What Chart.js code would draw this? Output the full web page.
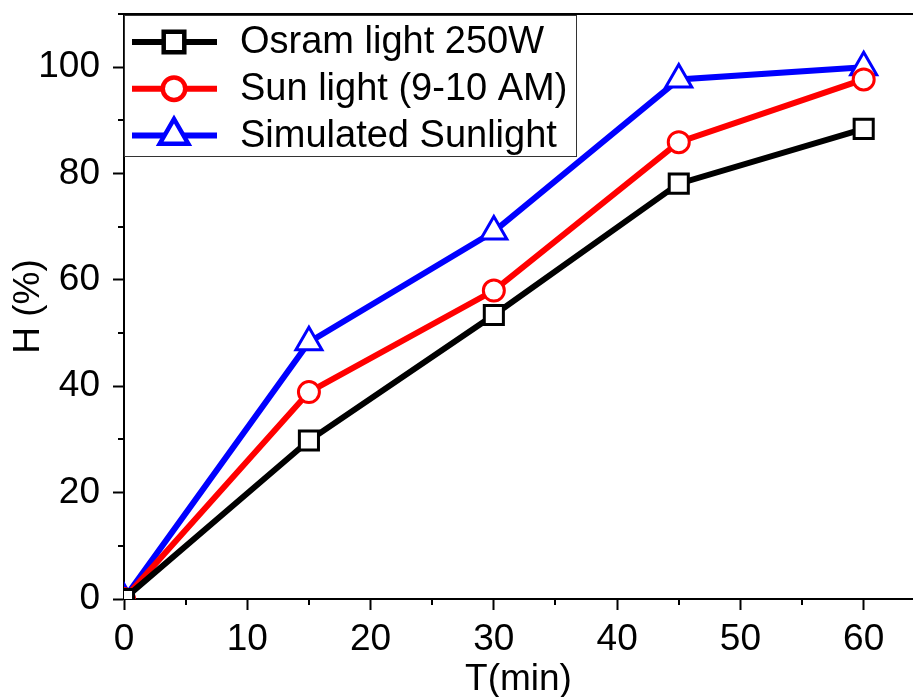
<!DOCTYPE html>
<html>
<head>
<meta charset="utf-8">
<script src="https://cdn.jsdelivr.net/npm/chart.js@4"></script>
<style>
    html, body { margin: 0; padding: 0; background: #fff; overflow: hidden; }
    #wrap { width: 913px; height: 697px; }
    canvas { display: block; }
</style>
</head>
<body>
<div id="wrap"><canvas id="degradation"></canvas></div>
<script>
const times = [0, 15, 30, 45, 60];
const osram = [0, 29.8, 53.4, 78.1, 88.4];
const sunLight = [0, 38.9, 58.0, 85.9, 97.7];
const simulated = [0, 48.3, 69.1, 97.7, 100];
const seriesNames = ["Osram light 250W", "Sun light (9-10 AM)", "Simulated Sunlight"];

const font = "'Liberation Sans', Arial, sans-serif";

function points(values) {
    return times.map((t, i) => ({ x: t, y: values[i] }));
}

// minor ticks, top frame line and the boxed legend
const decorations = {
    id: "decorations",
    afterDraw(chart) {
        const ctx = chart.ctx;
        const area = chart.chartArea;
        const xs = chart.scales.x, ys = chart.scales.y;
        ctx.save();
        ctx.strokeStyle = "#000";
        ctx.lineWidth = 2;
        ctx.beginPath();
        for (let v = 5; v < 64; v += 10) {
            const px = Math.round(xs.getPixelForValue(v));
            ctx.moveTo(px, area.bottom);
            ctx.lineTo(px, area.bottom + 6);
        }
        for (let v = 10; v <= 110; v += 20) {
            const py = Math.round(ys.getPixelForValue(v));
            ctx.moveTo(area.left, py);
            ctx.lineTo(area.left - 6, py);
        }
        ctx.moveTo(area.left - 1, area.top);
        ctx.lineTo(area.right, area.top);
        ctx.stroke();

        // legend
        const bx = area.left, by = area.top + 1, bw = 452, bh = 141;
        ctx.fillStyle = "#fff";
        ctx.fillRect(bx, by, bw, bh);
        ctx.lineWidth = 1;
        ctx.strokeStyle = "#333";
        ctx.strokeRect(bx + 0.5, by + 0.5, bw, bh);
        chart.data.datasets.forEach((ds, i) => {
            const cy = by + 27 + i * 46.7;
            ctx.strokeStyle = ds.borderColor;
            ctx.lineWidth = ds.borderWidth;
            ctx.beginPath();
            ctx.moveTo(132, cy);
            ctx.lineTo(217, cy);
            ctx.stroke();
            Chart.helpers.drawPoint(ctx, {
                pointStyle: ds.pointStyle,
                radius: ds.pointRadius,
                borderWidth: ds.pointBorderWidth
            }, 174, cy);
            ctx.fillStyle = "#fff";
            ctx.strokeStyle = ds.borderColor;
            ctx.lineWidth = ds.pointBorderWidth;
            ctx.fill();
            ctx.stroke();
            ctx.fillStyle = "#000";
            ctx.font = "38px " + font;
            ctx.textAlign = "left";
            ctx.textBaseline = "middle";
            ctx.fillText(ds.label, 240, cy + 1);
        });
        ctx.restore();
    }
};

new Chart("degradation", {
    type: "line",
    data: {
        datasets: [{
            label: seriesNames[0],
            data: points(osram),
            borderColor: "#000000",
            pointStyle: "rect",
            pointRadius: 13.5
        }, {
            label: seriesNames[1],
            data: points(sunLight),
            borderColor: "#ff0000",
            pointStyle: "circle",
            pointRadius: 10.5
        }, {
            label: seriesNames[2],
            data: points(simulated),
            borderColor: "#0000ff",
            pointStyle: "triangle",
            pointRadius: 15
        }].map(ds => Object.assign(ds, {
            borderWidth: 6,
            pointBorderWidth: 3,
            pointBackgroundColor: "#ffffff",
            pointBorderColor: ds.borderColor,
            pointHoverRadius: ds.pointRadius,
            tension: 0
        }))
    },
    options: {
        responsive: true,
        maintainAspectRatio: false,
        animation: false,
        layout: {
            autoPadding: false,
            padding: { top: 14, right: 0, bottom: 0, left: 0 }
        },
        plugins: {
            legend: { display: false },
            tooltip: { enabled: false }
        },
        scales: {
            x: {
                type: "linear",
                min: 0,
                max: 64,
                afterFit: (scale) => {
                    scale.height = 98;
                    scale.paddingLeft = 0;
                    scale.paddingRight = 0;
                },
                border: { color: "#000", width: 2 },
                grid: {
                    drawOnChartArea: false,
                    tickLength: 11,
                    tickWidth: 2,
                    tickColor: "#000"
                },
                ticks: {
                    stepSize: 10,
                    includeBounds: false,
                    maxRotation: 0,
                    padding: 8,
                    color: "#000",
                    font: { size: 37, family: font }
                },
                title: {
                    display: true,
                    text: "T(min)",
                    color: "#000",
                    padding: { top: 0, bottom: -5 },
                    font: { size: 37, family: font }
                }
            },
            y: {
                min: 0,
                max: 110,
                afterFit: (scale) => {
                    scale.width = 124;
                    scale.paddingTop = 0;
                    scale.paddingBottom = 0;
                },
                border: { color: "#000", width: 2 },
                grid: {
                    drawOnChartArea: false,
                    tickLength: 11,
                    tickWidth: 2,
                    tickColor: "#000"
                },
                ticks: {
                    stepSize: 20,
                    includeBounds: false,
                    padding: 13,
                    color: "#000",
                    font: { size: 37, family: font }
                },
                title: {
                    display: true,
                    text: "H (%)",
                    color: "#000",
                    padding: { top: 7, bottom: 0 },
                    font: { size: 37, family: font }
                }
            }
        }
    },
    plugins: [decorations]
});
</script>
</body>
</html>
